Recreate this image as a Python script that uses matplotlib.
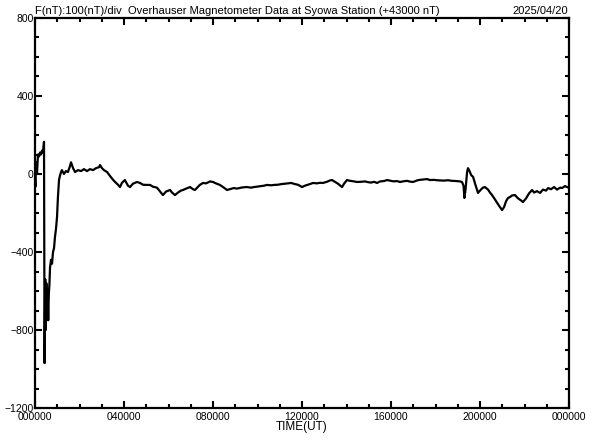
import numpy as np
import matplotlib
matplotlib.use("Agg")
import matplotlib.pyplot as plt
from matplotlib.ticker import MultipleLocator, FixedLocator

# Hora UT (horas desde 00:00) y F - 43000 nT
hours = [0.00, 0.02, 0.045, 0.09, 0.135, 0.18, 0.225, 0.27, 0.315, 0.36, 0.405,
         0.43, 0.46, 0.485, 0.51, 0.54, 0.565, 0.595, 0.62, 0.65, 0.675, 0.72,
         0.765, 0.81, 0.855, 0.90, 0.945, 0.99, 1.03, 1.08, 1.12, 1.17, 1.21,
         1.30, 1.39, 1.48, 1.57, 1.62, 1.71, 1.80, 1.93, 2.07, 2.20, 2.34, 2.47,
         2.61, 2.74, 2.88, 2.92, 3.01, 3.10, 3.24, 3.37, 3.51, 3.60, 3.73, 3.82,
         3.91, 4.04, 4.18, 4.27, 4.40, 4.58, 4.72, 4.85, 5.03, 5.17, 5.30, 5.48,
         5.62, 5.75, 5.89, 6.07, 6.16, 6.29, 6.43, 6.56, 6.65, 6.79, 6.97, 7.10,
         7.19, 7.33, 7.42, 7.55, 7.69, 7.87, 8.00, 8.13, 8.31, 8.49, 8.63, 8.76,
         8.94, 9.08, 9.26, 9.39, 9.53, 9.71, 9.84, 9.98, 10.16, 10.29, 10.43,
         10.61, 10.74, 10.92, 11.06, 11.24, 11.37, 11.51, 11.69, 11.82, 12.00,
         12.13, 12.27, 12.40, 12.49, 12.67, 12.81, 12.94, 13.12, 13.26, 13.35,
         13.48, 13.62, 13.80, 13.89, 14.02, 14.16, 14.34, 14.47, 14.65, 14.83,
         14.97, 15.10, 15.24, 15.37, 15.51, 15.69, 15.82, 16.00, 16.13, 16.27,
         16.40, 16.58, 16.72, 16.85, 16.99, 17.17, 17.30, 17.48, 17.62, 17.75,
         17.93, 18.07, 18.25, 18.38, 18.56, 18.74, 18.92, 19.10, 19.19, 19.26,
         19.30, 19.35, 19.42, 19.46, 19.53, 19.60, 19.69, 19.78, 19.91, 20.04,
         20.13, 20.22, 20.36, 20.45, 20.54, 20.67, 20.81, 20.90, 20.99, 21.08,
         21.17, 21.26, 21.35, 21.44, 21.57, 21.71, 21.84, 21.93, 22.07, 22.20,
         22.34, 22.43, 22.56, 22.70, 22.83, 22.97, 23.06, 23.19, 23.33, 23.46,
         23.60, 23.69, 23.82, 23.91, 24.00]

f_nt = [-30, -65, 60, 5, 100, 90, 110, 100, 120, 110, 165,
        -970, -540, -800, -560, -720, -600, -750, -620, -560, -480, -440,
        -460, -400, -380, -320, -280, -220, -120, -30, -10, 10, 20,
        0, 15, 10, 40, 60, 30, 10, 20, 15, 25, 15, 25,
        20, 30, 35, 46, 30, 20, 10, -10, -30, -41, -55, -67,
        -45, -31, -60, -67, -50, -41, -46, -55, -56, -56, -65, -70,
        -90, -108, -90, -82, -95, -108, -95, -85, -82, -75, -67, -78,
        -82, -65, -55, -46, -48, -38, -41, -48, -56, -70, -82, -78,
        -72, -75, -70, -68, -67, -70, -67, -65, -62, -60, -56,
        -58, -56, -55, -52, -50, -48, -46, -52, -55, -67,
        -60, -55, -50, -46, -48, -45, -46, -40, -33, -31,
        -40, -50, -67, -50, -31, -35, -38, -41, -40, -38,
        -42, -44, -40, -46, -38, -36, -31, -35, -38, -36,
        -41, -37, -35, -39, -41, -33, -30, -28, -26, -31,
        -30, -32, -33, -34, -32, -35, -36, -38, -41, -60,
        -123, -80, 10, 30, 15, -5, -15, -50, -97, -80,
        -70, -67, -80, -95, -108, -130, -155, -170, -185, -170,
        -140, -123, -118, -110, -108, -125, -135, -144, -125, -100,
        -82, -95, -88, -97, -80, -85, -72, -78, -67, -80,
        -70, -72, -62, -67, -70]

xtick_pos = [0, 4, 8, 12, 16, 20, 24]
xtick_labels = ["000000", "040000", "080000", "120000", "160000", "200000", "000000"]
ytick_pos = [-1200, -800, -400, 0, 400, 800]

plt.rcParams['font.family'] = ['Liberation Sans', 'DejaVu Sans']

fig = plt.figure(figsize=(5.92, 4.4), dpi=100)
ax = fig.add_axes([35/592, 32/440, 534/592, 390/440])

ax.plot(hours, f_nt, color="black", lw=1.6)

ax.set_xlim(0, 24)
ax.set_ylim(-1200, 800)
ax.xaxis.set_major_locator(FixedLocator(xtick_pos))
ax.set_xticklabels(xtick_labels)
ax.xaxis.set_minor_locator(MultipleLocator(1))
ax.yaxis.set_major_locator(FixedLocator(ytick_pos))
ax.yaxis.set_minor_locator(MultipleLocator(100))

for s in ax.spines.values():
    s.set_linewidth(1.6)
ax.tick_params(which="both", direction="in", top=True, right=True, width=1.5)
ax.tick_params(which="major", length=5)
ax.tick_params(which="minor", length=3)
ax.tick_params(axis="y", labelsize=7.5, pad=1)
ax.tick_params(axis="x", labelsize=7.5, pad=3)

ax.set_xlabel("TIME(UT)", fontsize=8.5, labelpad=-1)

fig.text(35/592, 1 - 14/440,
         "F(nT):100(nT)/div  Overhauser Magnetometer Data at Syowa Station (+43000 nT)",
         fontsize=8, ha="left", va="baseline")
fig.text(568/592, 1 - 14/440, "2025/04/20", fontsize=8, ha="right", va="baseline")

fig.savefig("out.png", dpi=100)
